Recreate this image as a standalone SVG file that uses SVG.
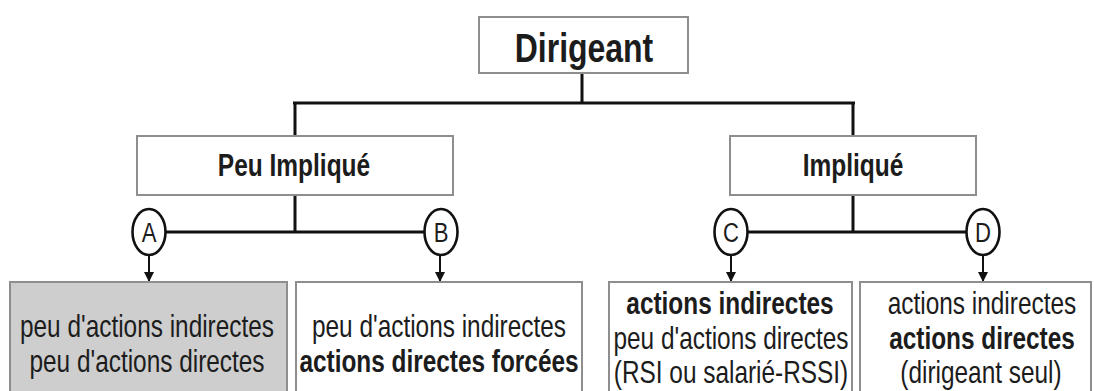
<svg xmlns="http://www.w3.org/2000/svg" width="1094" height="391" viewBox="0 0 1094 391">
<style>
.box{fill:#ffffff;stroke:#8e8e8e;stroke-width:2}
.gray{fill:#cecece}
.ln{stroke:#111111;stroke-width:3;fill:none}
.arr{stroke:#111111;stroke-width:2;fill:none}
.circ{fill:#ffffff;stroke:#111111;stroke-width:2.6}
text{font-family:"Liberation Sans",Arial,sans-serif;fill:#1c1c1c;text-anchor:middle}
.b{font-weight:bold}
.t{font-size:31px}
.c{font-size:28px}
</style>
<defs>
<marker id="ah" markerUnits="userSpaceOnUse" markerWidth="10" markerHeight="12" refX="10" refY="5" orient="auto" viewBox="0 0 10 10">
<path d="M0,0 L10,5 L0,10 z" fill="#111111"/>
</marker>
</defs>
<rect width="1094" height="391" fill="#ffffff"/>
<g id="connectors">
<path class="ln" d="M582,73 V103 M293,103 H855 M295,103 V136 M853,103 V136"/>
<path class="ln" d="M295,195 V232 M165,232 H425"/>
<path class="ln" d="M853,195 V232 M747,232 H967"/>
<line class="arr" x1="149" y1="255" x2="149" y2="282" marker-end="url(#ah)"/>
<line class="arr" x1="440" y1="255" x2="440" y2="282" marker-end="url(#ah)"/>
<line class="arr" x1="731" y1="255" x2="731" y2="282" marker-end="url(#ah)"/>
<line class="arr" x1="983" y1="255" x2="983" y2="282" marker-end="url(#ah)"/>
</g>
<g id="dirigeant">
<rect class="box" x="479" y="17" width="209" height="56"/>
<text class="b" font-size="41" transform="translate(584,62) scale(0.78,1)">Dirigeant</text>
</g>
<g id="peu-implique">
<rect class="box" x="137" y="136" width="316" height="59"/>
<text class="b" font-size="31" transform="translate(294,176) scale(0.79,1)">Peu Impliqué</text>
</g>
<g id="implique">
<rect class="box" x="730" y="136" width="246" height="59"/>
<text class="b" font-size="31" transform="translate(853,176) scale(0.79,1)">Impliqué</text>
</g>
<g id="A">
<ellipse class="circ" cx="149" cy="232" rx="16.5" ry="23"/>
<text class="c" transform="translate(149,242) scale(0.79,1)">A</text>
</g>
<g id="B">
<ellipse class="circ" cx="441" cy="232" rx="16.5" ry="23"/>
<text class="c" transform="translate(441,242) scale(0.79,1)">B</text>
</g>
<g id="C">
<ellipse class="circ" cx="731" cy="232" rx="16.5" ry="23"/>
<text class="c" transform="translate(731,242) scale(0.79,1)">C</text>
</g>
<g id="D">
<ellipse class="circ" cx="983" cy="232" rx="16.5" ry="23"/>
<text class="c" transform="translate(983,242) scale(0.79,1)">D</text>
</g>
<g id="box-a">
<rect class="box gray" x="10" y="282" width="277" height="120"/>
<text class="t" transform="translate(147,337) scale(0.787,1)">peu d'actions indirectes</text>
<text class="t" transform="translate(147,372) scale(0.787,1)">peu d'actions directes</text>
</g>
<g id="box-b">
<rect class="box" x="296" y="282" width="286" height="120"/>
<text class="t" transform="translate(439,337) scale(0.787,1)">peu d'actions indirectes</text>
<text class="t b" transform="translate(439,372) scale(0.787,1)">actions directes forcées</text>
</g>
<g id="box-c">
<rect class="box" x="609" y="282" width="243" height="120"/>
<text class="t b" transform="translate(730,314) scale(0.787,1)">actions indirectes</text>
<text class="t" transform="translate(731,349) scale(0.787,1)">peu d'actions directes</text>
<text class="t" transform="translate(731,383) scale(0.787,1)">(RSI ou salarié-RSSI)</text>
</g>
<g id="box-d">
<rect class="box" x="860" y="282" width="231" height="120"/>
<text class="t" transform="translate(982,314) scale(0.787,1)">actions indirectes</text>
<text class="t b" transform="translate(982,349) scale(0.787,1)">actions directes</text>
<text class="t" transform="translate(981,383) scale(0.787,1)">(dirigeant seul)</text>
</g>
</svg>
